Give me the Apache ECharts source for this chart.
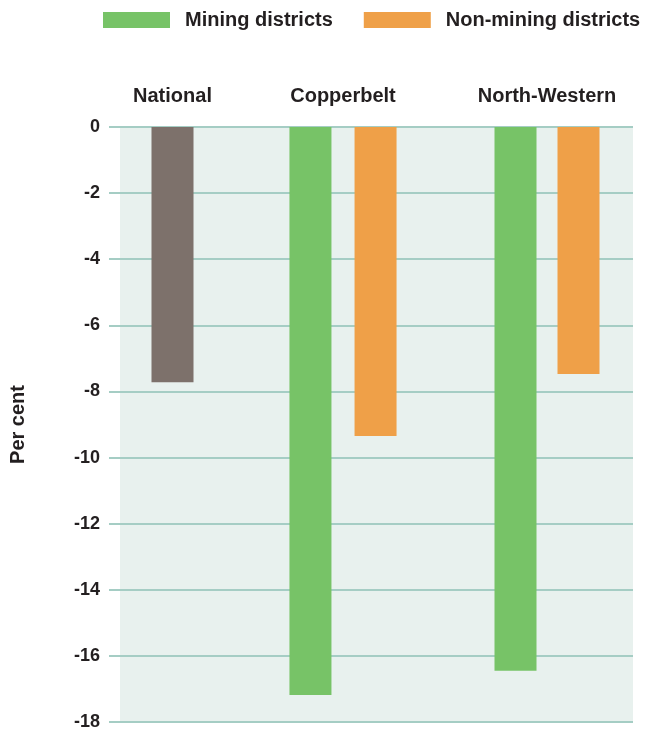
<!DOCTYPE html>
<html>
<head>
<meta charset="utf-8">
<script src="https://cdn.jsdelivr.net/npm/echarts@6/dist/echarts.min.js"></script>
<style>html,body{margin:0;padding:0;background:#fff}#c{width:645px;height:731px}</style>
</head>
<body>
<div id="c"></div>
<script>
const categories = ['National', 'Copperbelt', 'North-Western'];
const seriesNames = ['Mining districts', 'Non-mining districts'];
const nationalValues = [-7.72];
const miningValues = [-17.18, -16.45];      // Copperbelt, North-Western
const nonMiningValues = [-9.35, -7.47];     // Copperbelt, North-Western
const yTicks = { min: -18, max: 0, interval: 2 };
const yAxisTitle = 'Per cent';

const FONT = '"Liberation Sans", Arial, sans-serif';
const TXT = '#231f20';
const GRID_LINE = '#a5cdc4';
const C_GREEN = '#77c367', C_ORANGE = '#efa048', C_GREY = '#7d716b';

const chart = echarts.init(document.getElementById('c'), null, { renderer: 'canvas' });

const plotTop = 127, plotBottom = 9;
function subGrid(center, width) {
  return { left: center - width / 2, width: width, top: plotTop, bottom: plotBottom, containLabel: false };
}
const hiddenY = (i) => ({ type: 'value', gridIndex: i, min: yTicks.min, max: yTicks.max, interval: yTicks.interval, show: false });
const catX = (i, label) => ({
  type: 'category', gridIndex: i, data: [label], position: 'top',
  axisLine: { show: false }, axisTick: { show: false }, splitLine: { show: false },
  axisLabel: { margin: 21, fontFamily: FONT, fontWeight: 'bold', fontSize: 20, color: TXT, interval: 0 }
});

const option = {
  animation: false,
  backgroundColor: '#ffffff',
  legend: {
    data: seriesNames,
    orient: 'horizontal',
    left: 103, top: 10, width: 600,
    padding: 0,
    icon: 'rect', itemWidth: 67, itemHeight: 16, itemGap: 31,
    textStyle: { fontFamily: FONT, fontWeight: 'bold', fontSize: 20, color: TXT, padding: [0, 0, 0, 10] }
  },
  grid: [
    { left: 118, right: 12, top: plotTop, bottom: plotBottom, show: true, backgroundColor: '#e8f1ee', borderWidth: 0 },
    subGrid(172.5, 100),
    subGrid(343, 140),
    subGrid(547, 140)
  ],
  xAxis: [
    { type: 'category', gridIndex: 0, data: [''], show: false },
    catX(1, categories[0]),
    catX(2, categories[1]),
    catX(3, categories[2])
  ],
  yAxis: [
    {
      type: 'value', gridIndex: 0, min: yTicks.min, max: yTicks.max, interval: yTicks.interval,
      name: yAxisTitle, nameLocation: 'middle', nameGap: 92,
      nameTextStyle: { fontFamily: FONT, fontWeight: 'bold', fontSize: 20, color: TXT },
      axisLine: { show: false },
      axisTick: { show: true, length: 11, lineStyle: { color: GRID_LINE, width: 2 } },
      splitLine: { show: true, lineStyle: { color: GRID_LINE, width: 2 } },
      axisLabel: { margin: 20, fontFamily: FONT, fontWeight: 'bold', fontSize: 18, color: TXT }
    },
    hiddenY(1), hiddenY(2), hiddenY(3)
  ],
  series: [
    { type: 'bar', name: 'National', xAxisIndex: 1, yAxisIndex: 1, data: nationalValues, barWidth: 42, itemStyle: { color: C_GREY } },
    { type: 'bar', name: seriesNames[0], xAxisIndex: 2, yAxisIndex: 2, data: [miningValues[0]], barWidth: 42, barGap: '55%', itemStyle: { color: C_GREEN } },
    { type: 'bar', name: seriesNames[1], xAxisIndex: 2, yAxisIndex: 2, data: [nonMiningValues[0]], barWidth: 42, barGap: '55%', itemStyle: { color: C_ORANGE } },
    { type: 'bar', name: seriesNames[0], xAxisIndex: 3, yAxisIndex: 3, data: [miningValues[1]], barWidth: 42, barGap: '50%', itemStyle: { color: C_GREEN } },
    { type: 'bar', name: seriesNames[1], xAxisIndex: 3, yAxisIndex: 3, data: [nonMiningValues[1]], barWidth: 42, barGap: '50%', itemStyle: { color: C_ORANGE } }
  ]
};
chart.setOption(option);
</script>
</body>
</html>
